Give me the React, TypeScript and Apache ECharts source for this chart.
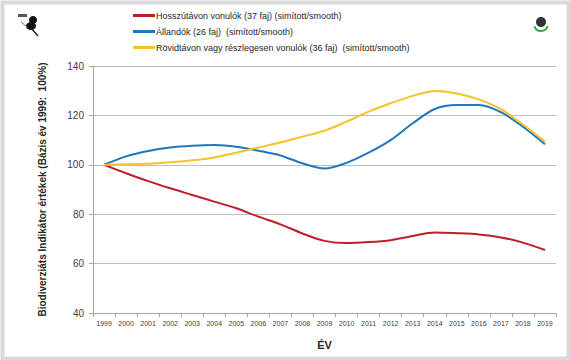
import React, { useEffect, useRef } from "react";
import * as echarts from "echarts";

const years = ["1999","2000","2001","2002","2003","2004","2005","2006","2007","2008","2009","2010","2011","2012","2013","2014","2015","2016","2017","2018","2019"];
const longDistance = [100, 96.6, 93.4, 90.5, 87.8, 85.1, 82.4, 79.0, 75.9, 72.2, 69.2, 68.3, 68.7, 69.5, 71.2, 72.6, 72.3, 71.8, 70.6, 68.5, 65.5];
const residents = [100, 103.4, 105.6, 107.0, 107.7, 108.0, 107.3, 105.7, 103.8, 100.6, 98.5, 100.8, 104.9, 110.0, 116.8, 122.6, 124.2, 124.2, 121.3, 115.4, 108.3];
const shortDistance = [100, 100.2, 100.4, 101.0, 101.8, 103.0, 104.9, 107.0, 109.0, 111.4, 113.8, 117.5, 121.5, 124.9, 127.9, 129.9, 128.9, 126.5, 122.5, 116.3, 109.4];
const seriesNames = [
  "Hosszútávon vonulók (37 faj) (simított/smooth)",
  "Állandók (26 faj)  (simított/smooth)",
  "Rövidtávon vagy részlegesen vonulók (36 faj)  (simított/smooth)",
];
const colors = ["#BE1E2A", "#1E78BE", "#F7C12A"];

export default function App() {
  const ref = useRef<HTMLDivElement>(null);
  useEffect(() => {
    const chart = echarts.init(ref.current!, undefined, { renderer: "svg" });
    const font = "Liberation Sans, Arial, sans-serif";
    const mk = (name: string, data: number[], color: string) => ({
      name,
      type: "line",
      data,
      smooth: 0.3,
      symbol: "none",
      lineStyle: { color, width: 2 },
      itemStyle: { color },
    });
    chart.setOption({
      animation: false,
      backgroundColor: "#ffffff",
      textStyle: { fontFamily: font },
      grid: { left: 93, right: 14, top: 66, bottom: 47 },
      legend: {
        orient: "vertical",
        left: 128,
        top: 6,
        itemWidth: 22,
        itemHeight: 3,
        itemGap: 7,
        icon: "rect",
        data: seriesNames,
        textStyle: { fontSize: 9, color: "#262626", fontFamily: font, padding: [0, 0, 0, -4] },
      },
      xAxis: {
        type: "category",
        data: years,
        boundaryGap: true,
        name: "ÉV",
        nameLocation: "middle",
        nameGap: 26,
        nameTextStyle: { fontSize: 11, fontWeight: "bold", color: "#262626" },
        axisLine: { lineStyle: { color: "#a6a6a6" } },
        axisTick: { show: true, alignWithLabel: false, lineStyle: { color: "#a6a6a6" }, length: 4 },
        axisLabel: { fontSize: 7, color: "#404040", margin: 7, interval: 0 },
      },
      yAxis: {
        type: "value",
        min: 40,
        max: 140,
        interval: 20,
        name: "Biodiverziáts Indikátor értékek (Bázis év 1999:  100%)",
        nameLocation: "middle",
        nameGap: 46,
        nameRotate: 90,
        nameTextStyle: { fontSize: 10, fontWeight: "bold", color: "#262626" },
        axisLine: { show: true, lineStyle: { color: "#a6a6a6" } },
        axisTick: { show: true, length: 4, lineStyle: { color: "#a6a6a6" } },
        axisLabel: { fontSize: 10, color: "#404040", margin: 9 },
        splitLine: { lineStyle: { color: "#bfbfbf", width: 1 } },
      },
      series: [
        mk(seriesNames[0], longDistance, colors[0]),
        mk(seriesNames[1], residents, colors[1]),
        mk(seriesNames[2], shortDistance, colors[2]),
      ],
      graphic: [
        {
          type: "rect",
          left: 0,
          top: 0,
          shape: { x: 0, y: 0, width: 566, height: 356 },
          style: { fill: "none", stroke: "#d9d9d9", lineWidth: 4 },
          z: 100,
        },
        // small bird logo (left)
        { type: "rect", shape: { x: 18, y: 14, width: 9, height: 3 }, style: { fill: "#555" } },
        { type: "ellipse", shape: { cx: 33, cy: 20, rx: 4, ry: 4 }, style: { fill: "#111" } },
        { type: "ellipse", shape: { cx: 31, cy: 26, rx: 5, ry: 4 }, style: { fill: "#111" } },
        { type: "line", shape: { x1: 31, y1: 28, x2: 38, y2: 36 }, style: { stroke: "#222", lineWidth: 1.5 } },
        { type: "line", shape: { x1: 21, y1: 22, x2: 27, y2: 27 }, style: { stroke: "#666", lineWidth: 1 } },
        // right logo
        { type: "ellipse", shape: { cx: 541, cy: 22, rx: 5, ry: 5 }, style: { fill: "#333" } },
        { type: "arc", shape: { cx: 541, cy: 24, r: 7, startAngle: 0.3, endAngle: 2.8 }, style: { stroke: "#3aa84a", lineWidth: 2, fill: "none" } },
      ],
    });
    return () => chart.dispose();
  }, []);
  return (
    <div
      ref={ref}
      style={{ position: "absolute", left: 0, top: 0, width: 570, height: 360 }}
    />
  );
}
